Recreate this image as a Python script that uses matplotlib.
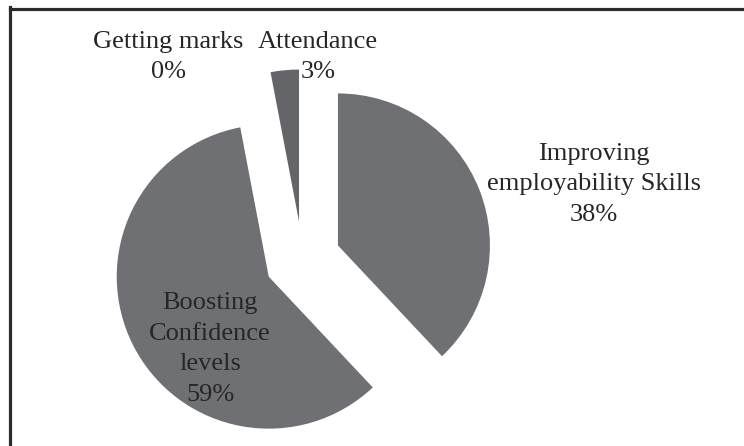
import matplotlib.pyplot as plt
from matplotlib.lines import Line2D

# survey answers, clockwise from 12 o'clock
categories = ["Improving\nemployability Skills", "Boosting\nConfidence\nlevels",
              "Attendance", "Getting marks"]
shares = [38, 59, 3, 0]
colors = ["#6f7074", "#6f7074", "#646568", "#6f7074"]

# where each label block sits (pie radius = 1)
label_pos = [(1.917, 0.496), (-0.609, -0.589), (0.10, 1.330), (-0.885, 1.330)]

plt.rcParams["font.family"] = ["Liberation Serif", "DejaVu Serif"]

fig = plt.figure(figsize=(7.44, 4.46), dpi=100)
ax = fig.add_axes([0, 0, 1, 1])

wedges, _ = ax.pie(shares, colors=colors, startangle=90, counterclock=False,
                   explode=[0.25] * len(shares), radius=1.0,
                   wedgeprops=dict(linewidth=0))

for name, v, (x, y) in zip(categories, shares, label_pos):
    ax.text(x, y, f"{name}\n{v}%", ha="center", va="center",
            multialignment="center", fontsize=19, color="#262626",
            linespacing=1.5)

# pixel geometry: centre at (302.6, 259.4), radius 152 px
r = 152.0
ax.set_xlim(-302.6 / r, (744 - 302.6) / r)
ax.set_ylim(-(446 - 259.4) / r, 259.4 / r)
ax.set_aspect("equal")
ax.axis("off")

# frame lines on the top and left edges only
W, H = 744.0, 446.0
fig.add_artist(Line2D([9.5 / W, 1], [1 - 8.5 / H, 1 - 8.5 / H],
                      transform=fig.transFigure, color="#2b2b2b", lw=2.3))
fig.add_artist(Line2D([9.5 / W, 9.5 / W], [0, 1 - 7 / H],
                      transform=fig.transFigure, color="#2b2b2b", lw=2.3))

fig.savefig("out.png", dpi=100)
